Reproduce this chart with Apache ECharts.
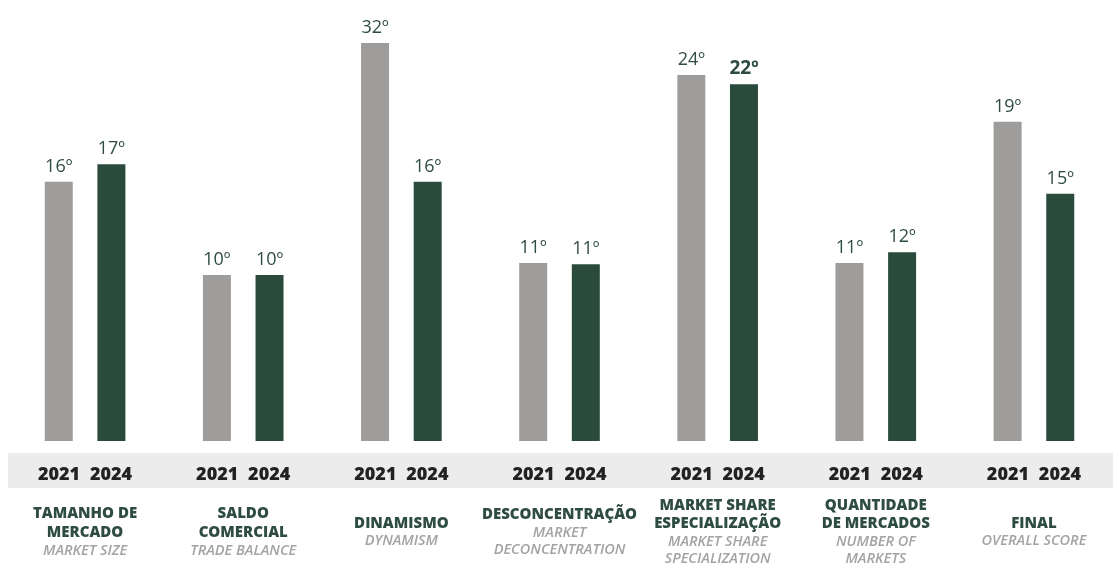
<!DOCTYPE html>
<html>
<head>
<meta charset="utf-8">
<script src="https://cdn.jsdelivr.net/npm/echarts@6/dist/echarts.min.js"></script>
<style>
  html, body { margin: 0; padding: 0; background: #ffffff; }
  #chart { width: 1113px; height: 564px; }
</style>
</head>
<body>
<div id="chart"></div>
<script>
// Indicator names (Portuguese, with line breaks) and English subtitles
const categoriesPt = [
  'TAMANHO DE\nMERCADO',
  'SALDO\nCOMERCIAL',
  'DINAMISMO',
  'DESCONCENTRAÇÃO',
  'MARKET SHARE\nESPECIALIZAÇÃO',
  'QUANTIDADE\nDE MERCADOS',
  'FINAL'
];
const categoriesEn = [
  'MARKET SIZE',
  'TRADE BALANCE',
  'DYNAMISM',
  'MARKET\nDECONCENTRATION',
  'MARKET SHARE\nSPECIALIZATION',
  'NUMBER OF\nMARKETS',
  'OVERALL SCORE'
];
const years = ['2021', '2024'];

// Indicator scores (0-100 index) that set bar heights
const score2021 = [64.8, 41.5, 99.5, 44.5, 91.5, 44.5, 79.8];
const score2024 = [69.2, 41.5, 64.8, 44.2, 89.2, 47.2, 61.8];

// Ranking positions printed above the bars
const rank2021 = [16, 10, 32, 11, 24, 11, 19];
const rank2024 = [17, 10, 16, 11, 22, 12, 15];

const GREEN = '#2a4b3b';
const GRAY = '#9e9d9b';
const LABEL_GREEN = '#2e4c3f';

function barData(scores, ranks, boldIdx) {
  return scores.map((v, i) => {
    const item = { value: v, rank: ranks[i] };
    if (i === boldIdx) {
      item.label = { fontWeight: 'bold', fontSize: 19 };
    }
    return item;
  });
}

function wrapRich(text, style) {
  return text.split('\n').map(l => '{' + style + '|' + l + '}').join('\n');
}

const chart = echarts.init(document.getElementById('chart'));

const labelCommon = {
  show: true,
  position: 'top',
  distance: 6,
  fontFamily: 'Open Sans',
  fontSize: 18,
  color: LABEL_GREEN,
  formatter: p => p.data.rank + 'º'
};

chart.setOption({
  animation: false,
  backgroundColor: '#ffffff',
  graphic: [{
    type: 'rect',
    left: 8,
    top: 453,
    z: -10,
    shape: { width: 1105, height: 35 },
    style: { fill: '#ececec' },
    silent: true
  }],
  grid: {
    left: 6, right: 0, top: 41, bottom: 123,
    containLabel: false,
    outerBoundsMode: 'none'
  },
  xAxis: [
    {
      type: 'category',
      data: categoriesPt,
      axisLine: { show: false },
      axisTick: { show: false },
      axisLabel: {
        interval: 0,
        margin: 34,
        verticalAlign: 'middle',
        formatter: () => '{y|' + years[0] + '}{y|' + years[1] + '}',
        rich: {
          y: {
            width: 52,
            align: 'center',
            fontFamily: 'Open Sans',
            fontWeight: 800,
            fontSize: 18,
            color: '#222222'
          }
        }
      }
    },
    {
      type: 'category',
      position: 'bottom',
      data: categoriesPt,
      axisLine: { show: false },
      axisTick: { show: false },
      axisLabel: {
        interval: 0,
        margin: 91,
        verticalAlign: 'middle',
        formatter: (val, idx) => wrapRich(val, 'pt') + '\n' + wrapRich(categoriesEn[idx], 'en'),
        rich: {
          pt: {
            fontFamily: 'Open Sans',
            fontWeight: 800,
            fontSize: 15,
            lineHeight: 18.5,
            color: LABEL_GREEN,
            align: 'center'
          },
          en: {
            fontFamily: 'Open Sans',
            fontWeight: 600,
            fontStyle: 'italic',
            fontSize: 14.5,
            lineHeight: 17.5,
            color: '#a3a3a3',
            align: 'center'
          }
        }
      }
    }
  ],
  yAxis: {
    type: 'value',
    min: 0,
    max: 100,
    show: false
  },
  series: [
    {
      name: years[0],
      type: 'bar',
      xAxisIndex: 0,
      barWidth: 28,
      barGap: '88%',
      itemStyle: { color: GRAY },
      label: labelCommon,
      data: barData(score2021, rank2021, -1)
    },
    {
      name: years[1],
      type: 'bar',
      xAxisIndex: 0,
      barWidth: 28,
      itemStyle: { color: GREEN },
      label: labelCommon,
      data: barData(score2024, rank2024, 4)
    }
  ]
});
</script>
</body>
</html>
